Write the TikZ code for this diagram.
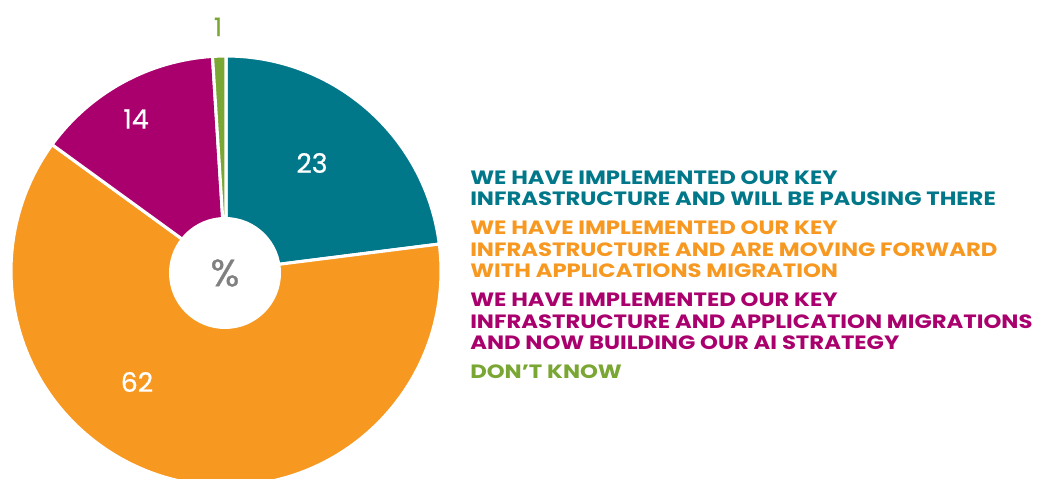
\documentclass[tikz,border=0pt]{standalone}
\usepackage{fontspec}
\setmainfont{Poppins}
\newfontfamily\legendfont{Poppins}[FakeStretch=1.18]
\newfontfamily\sharefont{Poppins}[FakeBold=0.7]
\definecolor{pauseTeal}{RGB}{0,120,138}
\definecolor{moveOrange}{RGB}{247,152,33}
\definecolor{aiMagenta}{RGB}{170,0,110}
\definecolor{unsureGreen}{RGB}{122,166,52}
\definecolor{pctGray}{RGB}{128,128,128}
\tikzset{%
  % Specifications for style of slices and texts:
        slice/.style = {draw=white, line width=2.2pt, line join=round},
       legend/.style = {anchor=base west, inner sep=0pt,
                        font=\fontsize{13.7}{16}\selectfont\legendfont\bfseries},
        share/.style = {text=white, inner sep=0pt,
                        font=\fontsize{19}{22}\selectfont\sharefont},
}

\begin{document}
\begin{tikzpicture}[x=0.025cm, y=0.025cm]
  \useasboundingbox (0,0) rectangle (1038,479);
  \clip (0,0) rectangle (1038,479);
  \coordinate (centre) at (226,208);
  % Specification of the pie slices (clockwise from the top)
  \filldraw[slice, fill=pauseTeal]   (centre) -- ++(90:215)
      arc[start angle=90, end angle=7.2, radius=215] -- cycle;
  \filldraw[slice, fill=moveOrange]  (centre) -- ++(7.2:215)
      arc[start angle=7.2, end angle=-216, radius=215] -- cycle;
  \filldraw[slice, fill=aiMagenta]   (centre) -- ++(-216:215)
      arc[start angle=-216, end angle=-266.4, radius=215] -- cycle;
  \filldraw[slice, fill=unsureGreen] (centre) -- ++(-266.4:215)
      arc[start angle=-266.4, end angle=-270, radius=215] -- cycle;
  \node (hole) [circle, fill=white, minimum size=112*0.025cm, inner sep=0pt]
      at (225,206) {};
  % Specification of the shares
  \node (pct)    [text=pctGray, font=\fontsize{27}{30}\selectfont\sharefont]
      at (hole) {\%};
  \node (pause)  [share] at (312,316) {23};
  \node (move)   [share] at (137,97)  {62};
  \node (ai)     [share] at (136,360) {14};
  \node (unsure) [share, text=unsureGreen, font=\fontsize{18}{20}\selectfont\sharefont]
      at (218,452) {1};
  % Specification of the legend
  \node (pauseA) [legend, text=pauseTeal]   at (470,294) {WE HAVE IMPLEMENTED OUR KEY};
  \node (pauseB) [legend, text=pauseTeal]   at (470,273) {INFRASTRUCTURE AND WILL BE PAUSING THERE};
  \node (moveA)  [legend, text=moveOrange]  at (470,244) {WE HAVE IMPLEMENTED OUR KEY};
  \node (moveB)  [legend, text=moveOrange]  at (470,222.5) {INFRASTRUCTURE AND ARE MOVING FORWARD};
  \node (moveC)  [legend, text=moveOrange]  at (470,201) {WITH APPLICATIONS MIGRATION};
  \node (aiA)    [legend, text=aiMagenta]   at (470,172) {WE HAVE IMPLEMENTED OUR KEY};
  \node (aiB)    [legend, text=aiMagenta]   at (470,150.5) {INFRASTRUCTURE AND APPLICATION MIGRATIONS};
  \node (aiC)    [legend, text=aiMagenta]   at (470,129) {AND NOW BUILDING OUR AI STRATEGY};
  \node (unsureA)[legend, text=unsureGreen] at (470,100) {DON’T KNOW};
\end{tikzpicture}
\end{document}
